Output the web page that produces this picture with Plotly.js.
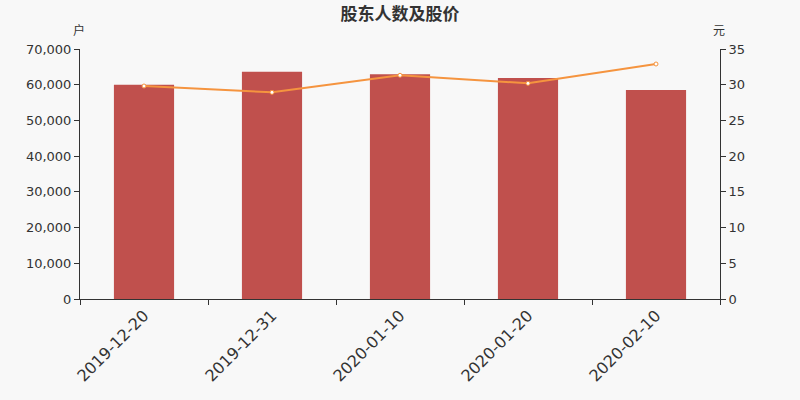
<!DOCTYPE html>
<html><head><meta charset="utf-8">
<script src="https://cdn.plot.ly/plotly-3.0.1.min.js"></script>
<style>html,body{margin:0;padding:0;background:#f8f8f8;}</style>
</head><body>
<div id="chart" style="width:800px;height:400px;"></div>
<script>
const dates = ["2019-12-20","2019-12-31","2020-01-10","2020-01-20","2020-02-10"];
const holders = [60000, 63600, 62900, 61900, 58500];
const prices = [29.82, 28.93, 31.32, 30.19, 32.9];
const leftTicks = [0,10000,20000,30000,40000,50000,60000,70000];
const leftTickText = ["0","10,000","20,000","30,000","40,000","50,000","60,000","70,000"];
const rightTicks = [0,5,10,15,20,25,30,35];

const font = "'DejaVu Sans', 'Noto Sans CJK SC', sans-serif";
const data = [
  {type:"bar", x:dates, y:holders, marker:{color:"#c0504d"}, width:0.47, hoverinfo:"y"},
  {type:"scatter", mode:"lines+markers", x:dates, y:prices, yaxis:"y2",
   line:{color:"#f5943f", width:2},
   marker:{size:4, color:"#ffffff", line:{color:"#f5943f", width:1}}}
];
const layout = {
  width:800, height:400,
  paper_bgcolor:"#f8f8f8", plot_bgcolor:"#f8f8f8",
  margin:{l:80, r:80, t:49, b:101},
  showlegend:false,
  font:{family:font, color:"#333", size:12},
  title:{text:"<b>股东人数及股价</b>", x:0.5, xanchor:"center", y:0.965, yanchor:"middle",
         font:{family:"'Noto Sans CJK SC', sans-serif", size:17, color:"#333"}},
  xaxis:{type:"category", tickson:"boundaries", ticks:"outside", ticklen:5, tickcolor:"#333",
         showline:true, linecolor:"#333", linewidth:1, showgrid:false, zeroline:false,
         tickangle:-45, tickfont:{size:16, color:"#333"}, range:[-0.5,4.5]},
  yaxis:{range:[0,70000], tickvals:leftTicks, ticktext:leftTickText, ticks:"outside", ticklen:5,
         tickcolor:"#333", showline:true, linecolor:"#333", showgrid:false, zeroline:false,
         tickfont:{size:13, color:"#333"}},
  yaxis2:{range:[0,35], tickvals:rightTicks, overlaying:"y", side:"right", ticks:"outside", ticklen:5,
          tickcolor:"#333", showline:true, linecolor:"#333", showgrid:false, zeroline:false,
          tickfont:{size:13, color:"#333"}},
  annotations:[
    {text:"户", xref:"paper", yref:"paper", x:0, y:1, xshift:-1, yshift:20, showarrow:false,
     xanchor:"center", yanchor:"middle", font:{size:12, color:"#333", family:"'Noto Sans CJK SC', sans-serif"}},
    {text:"元", xref:"paper", yref:"paper", x:1, y:1, xshift:-1, yshift:20, showarrow:false,
     xanchor:"center", yanchor:"middle", font:{size:12, color:"#333", family:"'Noto Sans CJK SC', sans-serif"}}
  ]
};
Plotly.newPlot("chart", data, layout, {displayModeBar:false, staticPlot:true});
</script>
</body></html>
